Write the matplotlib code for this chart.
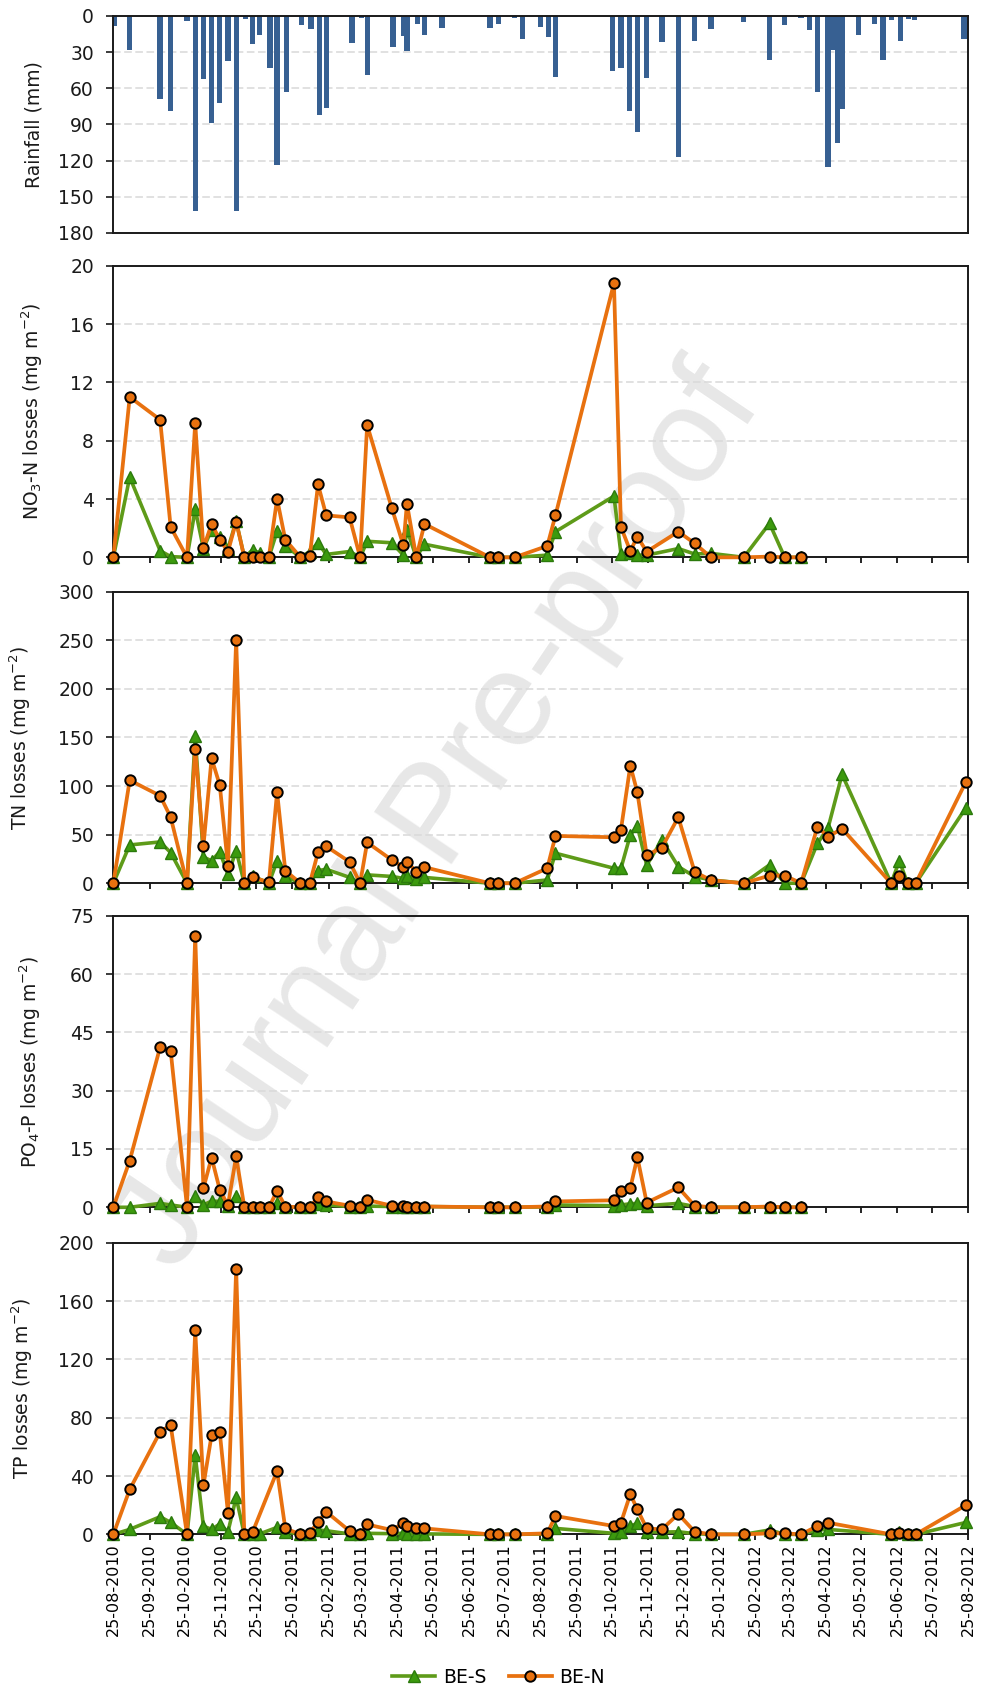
import numpy as np
import pandas as pd
import matplotlib
matplotlib.use('Agg')
import matplotlib.pyplot as plt
import matplotlib.dates as mdates

NA = np.nan
START = '2010-08-25'
END = '2012-08-25'

# rainfall events, days after 25-08-2010 and depth (mm)
rain_day = [1, 14, 40, 49, 63, 70, 77, 84, 91, 98,
            105, 113, 119, 125, 134, 140, 148, 161, 169, 176,
            182, 204, 212, 217, 239, 248, 251, 260, 266, 281,
            322, 329, 343, 350, 365, 372, 378, 427, 434, 441,
            448, 456, 469, 483, 497, 511, 539, 561, 574, 588,
            595, 602, 611, 614, 616, 619, 623, 637, 651, 658,
            665, 673, 680, 685, 727, 730]
rain_mm = [8, 28, 69, 79, 4.4, 162, 52.5, 89, 72, 37,
           162, 2.7, 23, 15.7, 43.6, 124, 63.5, 7.2, 11, 82.3,
           76, 22.4, 1.6, 49.4, 26, 16.6, 29, 6.3, 15.7, 10.2,
           10.2, 6.3, 1.6, 19.3, 9.1, 17.7, 50.3, 45.9, 43, 78.8,
           95.9, 51.7, 21.5, 117.4, 20.7, 10.5, 5.2, 36.2, 7.2, 1.4,
           11.9, 62.7, 125.7, 28, 28, 105, 76.8, 15.5, 6.3, 36.4,
           3.6, 20.4, 2.5, 3.6, 19.3, 19.3]

# sampling events, days after 25-08-2010
sample_day = [0, 14, 40, 49, 63, 70, 77, 84, 91, 98,
              105, 112, 119, 125, 133, 140, 147, 160, 168, 175,
              182, 202, 211, 217, 238, 248, 251, 259, 266, 322,
              329, 343, 371, 378, 428, 434, 442, 448, 456, 469,
              483, 497, 511, 539, 561, 574, 588, 602, 611, 623,
              665, 672, 679, 686, 729]

no3_ben = [0, 11.0, 9.44, 2.08, 0, 9.2, 0.62, 2.29, 1.21, 0.39,
           2.45, 0, 0.05, 0.0, 0.05, 4.0, 1.21, 0, 0.11, 5.0,
           2.88, 2.74, 0, 9.07, 3.4, 0.82, 3.68, 0, 2.29, 0,
           0, 0, 0.78, 2.88, 18.8, 2.08, 0.43, 1.42, 0.39, NA,
           1.76, 0.96, 0, 0, 0.05, 0, 0, NA, NA, NA,
           NA, NA, NA, NA, NA]
no3_bes = [0, 5.5, 0.46, 0.05, 0, 3.3, 0.6, 1.9, 1.4, 0.6,
           2.5, 0, 0.5, 0.3, 0, 1.8, 0.8, 0, 0.4, 1.0,
           0.2, 0.4, 0, 1.1, 1.0, 0.15, 1.9, 0, 0.9, 0,
           0, 0, 0.15, 1.76, 4.2, 0.23, 0.3, 0.15, 0.15, NA,
           0.6, 0.23, 0.27, 0, 2.33, 0, 0, NA, NA, NA,
           NA, NA, NA, NA, NA]

tn_ben = [0, 106, 90, 68, 0, 138.5, 38, 128.5, 101, 18,
          250, 0, 6, NA, 1, 94, 13, 0, 0, 32,
          38, 22, 0, 42, 24, 16.5, 22, 12, 16.5, 0,
          0, 0, 15.4, 48.7, 47.3, 55.2, 121, 93.6, 28.8, 36.7,
          67.9, 11.7, 3.1, 0, 7.9, 7.9, 0, 58.3, 47.7, 56.2,
          0, 7.9, 0, 0, 104.6]
tn_bes = [0, 39.4, 42.5, 31.5, 0, 151, 27, 23, 32.5, 9,
          33.6, 0, 7.5, NA, 0, 23, 7, 0, 0, 13,
          14.4, 6, 0, 8.6, 7, 5, 7.5, 4, 6, 0,
          0, 0, 3.4, 30.9, 15.4, 15.4, 49.7, 59.3, 18.5, 44.6,
          17.1, 6.9, 3.4, 0, 18.9, 0, 0, 41.1, 56.6, 112,
          0, 23, 0, 0, 77.8]

po4_ben = [0, 12.0, 41.2, 40.3, 0, 69.9, 4.9, 12.8, 4.5, 0.5,
           13.1, 0, 0.2, 0, 0, 4.2, 0.2, 0, 0, 2.6,
           1.5, 0.4, 0, 1.9, 0.4, 0.4, 0.2, 0, 0.2, 0,
           0, 0, 0.2, 1.5, 1.8, 4.2, 4.9, 12.9, 1.2, NA,
           5.1, 0.4, 0, 0, 0.2, 0, 0, NA, NA, NA,
           NA, NA, NA, NA, NA]
po4_bes = [0, 0, 1.0, 0.6, 0, 3.0, 0.6, 1.6, 1.5, 0.3,
           3.0, 0, 0.1, 0.1, 0, 1.0, 0.2, 0, 0.1, 0.9,
           0.6, 0.2, 0, 0.3, 0.2, 0.2, 0.1, 0, 0.2, 0,
           0, 0, 0.1, 0.6, 0.4, 0.6, 0.9, 1.0, 0.4, NA,
           1.0, 0.2, 0, 0, 0.1, 0, 0, NA, NA, NA,
           NA, NA, NA, NA, NA]

tp_ben = [0, 30.8, 70.3, 74.9, 0, 140, 33.6, 68, 69.9, 14.8,
          182, 0, 1.4, NA, NA, 43.4, 4.1, 0, 0.7, 8.7,
          15.5, 2.3, 0, 6.8, 3.0, 7.5, 5.7, 4.1, 4.1, 0,
          0, 0, 0.7, 12.6, 5.7, 8.0, 27.6, 17.1, 4.1, 3.4,
          14.0, 1.8, 0, 0, 0.7, 0.7, 0, 5.7, 8.0, NA,
          0, 0.7, 0, 0, 20.1]
tp_bes = [0, 3.4, 12.1, 8.2, 0, 54.3, 5.7, 3.4, 7.1, 1.8,
          25.3, 0, 0, 0.3, NA, 4.8, 1.8, 0, 0.3, 3.0,
          2.5, 0.3, 0, 0.7, 0.5, 0.7, 0.5, 0.3, 0.3, 0,
          0, 0, 0.3, 4.1, 0.7, 1.8, 5.7, 7.5, 1.8, 1.5,
          1.8, 0.5, 0, 0, 3.0, 0, 0, 3.0, 3.4, NA,
          0, 1.8, 0, 0, 8.2]


def to_dates(days):
    return pd.Timestamp(START) + pd.to_timedelta(np.asarray(days, float), unit='D')


rain_dates = to_dates(rain_day)
sample_dates = to_dates(sample_day)
x0, x1 = pd.Timestamp(START), pd.Timestamp(END)

GREEN_LINE = '#5E9B19'
GREEN_FACE = '#3C9A0E'
GREEN_EDGE = '#2B7A0C'
ORANGE = '#E8710F'
GRID = '#D9D9D9'

fig = plt.figure(figsize=(9.83, 16.93), dpi=100)
fig.patch.set_facecolor('white')

L, W = 0.1153, 0.8698
ax_rain = fig.add_axes([L, 0.8624, W, 0.1282])
ax_no3 = fig.add_axes([L, 0.6708, W, 0.1722])
ax_tn = fig.add_axes([L, 0.4783, W, 0.1722])
ax_po4 = fig.add_axes([L, 0.2869, W, 0.1722])
ax_tp = fig.add_axes([L, 0.0937, W, 0.1722])


def style(ax, ymax, step, label, label_x):
    ax.set_facecolor('none')
    for sp in ax.spines.values():
        sp.set_linewidth(1.4)
        sp.set_color('#1a1a1a')
    ax.set_yticks(np.arange(0, ymax + step / 2, step))
    ax.yaxis.grid(True, color=GRID, linestyle=(0, (5, 2.3)), linewidth=1.1)
    ax.set_axisbelow(True)
    ax.tick_params(axis='y', direction='out', length=5, width=1.2,
                   labelsize=13.5, pad=9, colors='#1a1a1a')
    ax.tick_params(axis='x', direction='out', length=4.5, width=1.2,
                   labelbottom=False)
    ax.set_xlim(x0, x1)
    ax.xaxis.set_major_locator(mdates.MonthLocator(bymonthday=25))
    ax.set_ylabel(label, fontsize=13.5, color='#1a1a1a')
    ax.yaxis.set_label_coords(label_x, 0.5)


# rainfall, hanging bars
ax_rain.bar(rain_dates, rain_mm, width=4.5, color='#376092', zorder=2)
style(ax_rain, 180, 30, 'Rainfall (mm)', -0.082)
ax_rain.set_ylim(180, 0)
ax_rain.tick_params(axis='x', bottom=False)


def plot_pair(ax, bes, ben):
    s = pd.Series(bes, index=sample_dates).dropna()
    n = pd.Series(ben, index=sample_dates).dropna()
    ax.plot(s.index, s.values, color=GREEN_LINE, lw=2.6, marker='^', ms=8.5,
            mfc=GREEN_FACE, mec=GREEN_EDGE, mew=1.0, clip_on=False, zorder=3,
            label='BE-S')
    ax.plot(n.index, n.values, color=ORANGE, lw=2.7, marker='o', ms=7.5,
            mfc=ORANGE, mec='black', mew=1.4, clip_on=False, zorder=4,
            label='BE-N')


plot_pair(ax_no3, no3_bes, no3_ben)
style(ax_no3, 20, 4, r'NO$_3$-N losses (mg m$^{-2}$)', -0.080)
ax_no3.set_ylim(0, 20)

plot_pair(ax_tn, tn_bes, tn_ben)
style(ax_tn, 300, 50, r'TN losses (mg m$^{-2}$)', -0.0936)
ax_tn.set_ylim(0, 300)

plot_pair(ax_po4, po4_bes, po4_ben)
style(ax_po4, 75, 15, r'PO$_4$-P losses (mg m$^{-2}$)', -0.0826)
ax_po4.set_ylim(0, 75)

plot_pair(ax_tp, tp_bes, tp_ben)
style(ax_tp, 200, 40, r'TP losses (mg m$^{-2}$)', -0.0916)
ax_tp.set_ylim(0, 200)
ax_tp.tick_params(axis='x', labelbottom=True, pad=2, labelsize=11.5)
ax_tp.xaxis.set_major_formatter(mdates.DateFormatter('%d-%m-%Y'))
for t in ax_tp.get_xticklabels():
    t.set_rotation(90)

handles, labels = ax_tp.get_legend_handles_labels()
fig.legend(handles, labels, loc='center', bbox_to_anchor=(0.507, 0.0092),
           ncol=2, frameon=False, fontsize=13.5, handlelength=2.3,
           columnspacing=1.2, handletextpad=0.4)

# watermark behind everything
fig.text(0.4476, 0.5162, 'Journal Pre-proof', rotation=56, fontsize=98,
         family='Liberation Sans', color='#E7E7E7', ha='center', va='center',
         zorder=-1)

fig.savefig('out.png', dpi=100)
